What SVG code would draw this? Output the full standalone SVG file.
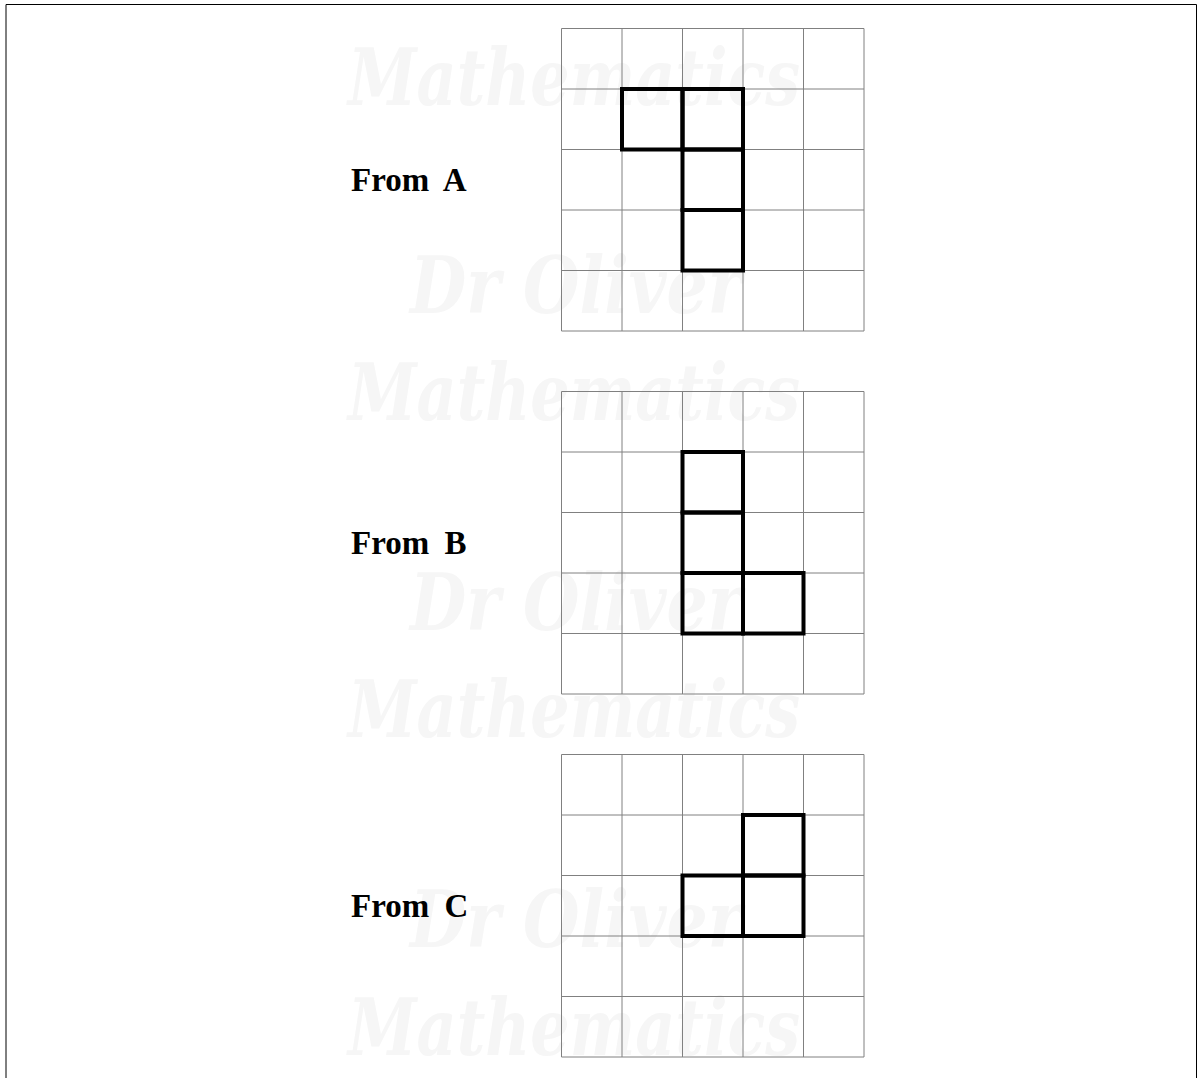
<svg xmlns="http://www.w3.org/2000/svg" width="1198" height="1078" viewBox="0 0 1198 1078">
  <defs>
    <style>
      .wm { font-family: "DejaVu Serif", serif; font-style: italic; font-weight: bold; font-size: 78px; fill: #f6f6f6; }
      .grid { fill: none; stroke: #808080; stroke-width: 1; }
      .cell { fill: none; stroke: #000; stroke-width: 4; }
      .lbl { font-family: "Liberation Serif", serif; font-weight: bold; font-size: 33px; fill: #000; word-spacing: 7px; }
    </style>
    <g id="gridlines">
      <path class="grid" d="M561.5,28.5H864M561.5,89H864M561.5,149.5H864M561.5,210H864M561.5,270.5H864M561.5,331H864M561.5,28.5V331M622,28.5V331M682.5,28.5V331M743,28.5V331M803.5,28.5V331M864,28.5V331"/>
    </g>
  </defs>
  <rect width="1198" height="1078" fill="#fff"/>
  <path d="M6,1078V4.5H1196.5V1078" fill="none" stroke="#000" stroke-width="1"/>

  <g id="watermarks">
    <text class="wm" x="348" y="105" textLength="452" lengthAdjust="spacingAndGlyphs">Mathematics</text>
    <text class="wm" x="410" y="313" textLength="332" lengthAdjust="spacingAndGlyphs">Dr Oliver</text>
    <text class="wm" x="348" y="420" textLength="452" lengthAdjust="spacingAndGlyphs">Mathematics</text>
    <text class="wm" x="410" y="630" textLength="332" lengthAdjust="spacingAndGlyphs">Dr Oliver</text>
    <text class="wm" x="348" y="737" textLength="452" lengthAdjust="spacingAndGlyphs">Mathematics</text>
    <text class="wm" x="410" y="947" textLength="332" lengthAdjust="spacingAndGlyphs">Dr Oliver</text>
    <text class="wm" x="348" y="1055" textLength="452" lengthAdjust="spacingAndGlyphs">Mathematics</text>
  </g>

  <g id="viewA">
    <use href="#gridlines"/>
    <text class="lbl" x="351" y="191">From A</text>
    <rect class="cell" x="622" y="89" width="60.5" height="60.5"/>
    <rect class="cell" x="682.5" y="89" width="60.5" height="60.5"/>
    <rect class="cell" x="682.5" y="149.5" width="60.5" height="60.5"/>
    <rect class="cell" x="682.5" y="210" width="60.5" height="60.5"/>
  </g>

  <g id="viewB" transform="translate(0,363)">
    <use href="#gridlines"/>
    <text class="lbl" x="351" y="191">From B</text>
    <rect class="cell" x="682.5" y="89" width="60.5" height="60.5"/>
    <rect class="cell" x="682.5" y="149.5" width="60.5" height="60.5"/>
    <rect class="cell" x="682.5" y="210" width="60.5" height="60.5"/>
    <rect class="cell" x="743" y="210" width="60.5" height="60.5"/>
  </g>

  <g id="viewC" transform="translate(0,726)">
    <use href="#gridlines"/>
    <text class="lbl" x="351" y="191">From C</text>
    <rect class="cell" x="743" y="89" width="60.5" height="60.5"/>
    <rect class="cell" x="682.5" y="149.5" width="60.5" height="60.5"/>
    <rect class="cell" x="743" y="149.5" width="60.5" height="60.5"/>
  </g>
  <g id="connectors"/>
</svg>
